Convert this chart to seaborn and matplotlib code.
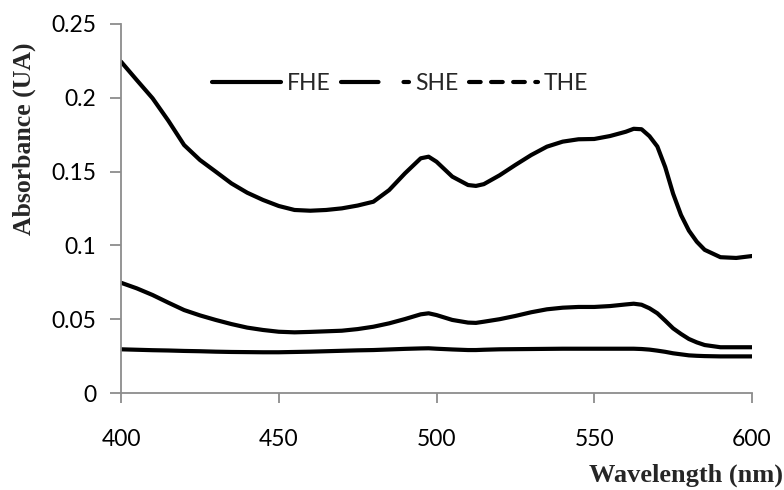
import numpy as np
import pandas as pd
import matplotlib
matplotlib.use("Agg")
import matplotlib.pyplot as plt
from matplotlib.lines import Line2D
import seaborn as sns

wavelength = [400, 405, 410, 415, 420, 425, 430, 435, 440, 445, 450, 455, 460, 465,
              470, 475, 480, 485, 490, 495, 497.5, 500, 505, 510, 512.5, 515, 520, 525,
              530, 535, 540, 545, 550, 555, 560, 562.5, 565, 567.5, 570, 572.5, 575,
              577.5, 580, 582.5, 585, 590, 595, 600]

fhe = [0.2245, 0.212, 0.1997, 0.1845, 0.168, 0.1579, 0.150, 0.142, 0.1357, 0.1308,
       0.1267, 0.124, 0.1235, 0.1240, 0.1251, 0.1270, 0.1296, 0.1375, 0.1488, 0.159,
       0.1601, 0.1567, 0.1466, 0.1409, 0.1403, 0.1415, 0.1475, 0.1545, 0.1612, 0.1669,
       0.1703, 0.1719, 0.1721, 0.1741, 0.177, 0.1790, 0.1787, 0.174, 0.167, 0.153,
       0.135, 0.1206, 0.110, 0.1025, 0.097, 0.092, 0.0915, 0.0928]

she = [0.0747, 0.0709, 0.0664, 0.0612, 0.0562, 0.0526, 0.0495, 0.0467, 0.0443, 0.0427,
       0.0415, 0.0411, 0.0414, 0.0418, 0.0422, 0.0433, 0.0449, 0.0472, 0.0501, 0.0533,
       0.0540, 0.0528, 0.0495, 0.0477, 0.0475, 0.0483, 0.0500, 0.0522, 0.0547, 0.0567,
       0.0578, 0.0583, 0.0583, 0.0589, 0.0600, 0.0605, 0.0598, 0.0574, 0.054, 0.049,
       0.0438, 0.040, 0.0366, 0.0343, 0.0325, 0.031, 0.031, 0.031]

the = [0.0296, 0.0293, 0.0290, 0.0288, 0.0285, 0.0283, 0.0280, 0.0278, 0.0277, 0.0276,
       0.0276, 0.0278, 0.0280, 0.0283, 0.0286, 0.0289, 0.0291, 0.0295, 0.0299, 0.0302,
       0.0303, 0.0300, 0.0295, 0.0291, 0.0291, 0.0293, 0.0296, 0.0297, 0.0298, 0.0299,
       0.0300, 0.0300, 0.0300, 0.0300, 0.0300, 0.0300, 0.0298, 0.0294, 0.0287, 0.0279,
       0.0269, 0.0262, 0.0255, 0.0252, 0.0250, 0.0248, 0.0248, 0.0248]

series_names = ["FHE", "SHE", "THE"]
y_ticks = [0, 0.05, 0.1, 0.15, 0.2, 0.25]
y_tick_labels = ["0", "0.05", "0.1", "0.15", "0.2", "0.25"]
x_ticks = [400, 450, 500, 550, 600]

df = pd.DataFrame({
    "Wavelength": wavelength * 3,
    "Absorbance": fhe + she + the,
    "Series": [n for n in series_names for _ in wavelength],
})

sns.set_style("white")
plt.rcParams["font.family"] = ["Lato", "DejaVu Sans"]

fig = plt.figure(figsize=(7.84, 4.9), dpi=100)
ax = fig.add_axes([121 / 784, 1 - 393 / 490, 631 / 784, 369 / 490])

sns.lineplot(data=df, x="Wavelength", y="Absorbance", hue="Series",
             palette=["black"] * 3, linewidth=3.0, ax=ax, legend=False,
             solid_capstyle="round", solid_joinstyle="round")

ax.set_xlim(400, 600)
ax.set_ylim(0, 0.25)
ax.set_xticks(x_ticks)
ax.set_xticklabels([str(t) for t in x_ticks])
ax.set_yticks(y_ticks)
ax.set_yticklabels(y_tick_labels)

for side in ["top", "right"]:
    ax.spines[side].set_visible(False)
for side in ["left", "bottom"]:
    ax.spines[side].set_color("#8c8c8c")
    ax.spines[side].set_linewidth(1.3)

ax.tick_params(axis="x", direction="out", length=7, width=1.3, color="#8c8c8c",
               pad=19, labelsize=16.5, labelcolor="black")
ax.tick_params(axis="y", direction="out", length=8, width=1.3, color="#8c8c8c",
               pad=10, labelsize=16.5, labelcolor="black")
ax.tick_params(bottom=True, left=True)

ax.set_xlabel("Wavelength (nm)", fontfamily="Liberation Serif", fontweight="bold",
              fontsize=19, ha="right", va="center")
ax.xaxis.set_label_coords((783 - 121) / 631, -0.222)
ax.set_ylabel("Absorbance (UA)", fontfamily="Liberation Serif", fontweight="bold",
              fontsize=18.5, va="center")
ax.yaxis.set_label_coords(-0.154, 0.688)

handles = [
    Line2D([0], [0], color="black", lw=3.0, linestyle="-", solid_capstyle="round"),
    Line2D([0], [0], color="black", lw=3.0, linestyle=(0, (9, 6)), dash_capstyle="round"),
    Line2D([0], [0], color="black", lw=3.0, linestyle=(0, (2.8, 2.5)), dash_capstyle="round"),
]
leg = ax.legend(handles, series_names, loc="center", bbox_to_anchor=(0.442, 0.84),
                ncol=3, frameon=False, fontsize=16.5, handlelength=3.0,
                handletextpad=0.25, columnspacing=0.45)

fig.savefig("out.png", dpi=100)
